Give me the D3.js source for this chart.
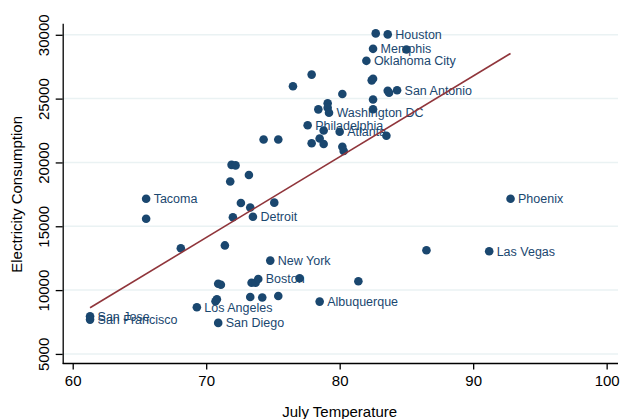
<!DOCTYPE html>
<html>
<head>
<meta charset="utf-8">
<script src="https://cdn.jsdelivr.net/npm/d3@7"></script>
<style>
  body { margin: 0; background: #fff; }
  text { font-family: "Liberation Sans", Arial, sans-serif; }
</style>
</head>
<body>
<div id="chart"></div>
<script>
// July temperature (F) for each city
const temperature = [
  82.7, 83.6, 82.5, 85.0, 82.0, 77.9, 76.5, 82.4, 82.5, 80.2,
  83.6, 83.7, 84.3, 82.5, 79.1, 79.1, 79.2, 78.4, 82.5, 77.6,
  78.8, 80.0, 78.5, 77.9, 78.8, 80.2, 80.3, 83.5, 74.3, 75.4,
  71.9, 72.2, 73.2, 71.8, 65.5, 92.8, 72.6, 73.3, 75.1, 65.5,
  72.0, 73.5, 68.1, 71.4, 74.8, 86.5, 91.2, 70.9, 71.1, 73.4,
  73.7, 73.9, 77.0, 81.4, 70.8, 70.7, 73.3, 74.2, 75.4, 69.3,
  78.5, 61.3, 61.3, 70.9
];

// electricity consumption
const consumption = [
  30110, 30030, 28900, 28850, 27960, 26880, 25970, 26430, 26560, 25360,
  25620, 25460, 25660, 24930, 24630, 24290, 23890, 24160, 24170, 22910,
  22500, 22400, 21870, 21500, 21440, 21230, 20900, 22090, 21800, 21800,
  19810, 19770, 19020, 18510, 17160, 17160, 16820, 16470, 16850, 15590,
  15710, 15750, 13280, 13500, 12310, 13120, 13040, 10500, 10420, 10580,
  10580, 10870, 10930, 10690, 9280, 9130, 9460, 9420, 9540, 8660,
  9100, 7950, 7690, 7430
];

// marker labels ('' = unlabelled)
const city = [
  "", "Houston", "Memphis", "", "Oklahoma City", "", "", "", "", "",
  "", "", "San Antonio", "", "", "", "Washington DC", "", "", "Philadelphia",
  "", "Atlanta", "", "", "", "", "", "", "", "",
  "", "", "", "", "Tacoma", "Phoenix", "", "", "", "",
  "", "Detroit", "", "", "New York", "", "Las Vegas", "", "", "",
  "", "Boston", "", "", "", "", "", "", "", "Los Angeles",
  "Albuquerque", "San Jose", "San Francisco", "San Diego"
];

const xTicks = [60, 70, 80, 90, 100];
const yTicks = [5000, 10000, 15000, 20000, 25000, 30000];

const width = 622, height = 419;
const navy = "#1a476f", maroon = "#90353b";

const svg = d3.select("#chart").append("svg")
  .attr("width", width)
  .attr("height", height);

const x = d3.scaleLinear().domain([59.25, 100.85]).range([62.7, 618]);
const y = d3.scaleLinear().domain([4250, 30900]).range([363.5, 23.3]);

// grid lines
svg.append("g")
  .selectAll("line")
  .data(yTicks)
  .enter()
  .append("line")
    .attr("x1", x.range()[0])
    .attr("x2", x.range()[1])
    .attr("y1", d => y(d))
    .attr("y2", d => y(d))
    .attr("stroke", "#eaf2f3")
    .attr("stroke-width", 1.5);

// axes
const xAxis = svg.append("g")
  .attr("transform", "translate(0," + y.range()[0] + ")")
  .call(d3.axisBottom(x).tickValues(xTicks).tickSize(6).tickPadding(6).tickFormat(d3.format("d")));

const yAxis = svg.append("g")
  .attr("transform", "translate(" + x.range()[0] + ",0)")
  .call(d3.axisLeft(y).tickValues(yTicks).tickSize(7).tickSizeOuter(0).tickFormat(d3.format("d")));

[xAxis, yAxis].forEach(g => {
  g.select(".domain").attr("stroke", "#000").attr("stroke-width", 1.3);
  g.selectAll(".tick line").attr("stroke", "#000").attr("stroke-width", 1.3);
  g.selectAll(".tick text")
    .attr("fill", "#000")
    .style("font-size", "15px")
    .style("font-family", "'Liberation Sans', Arial, sans-serif");
});
xAxis.select(".domain").attr("d", "M" + x.range()[0] + ",0H" + x.range()[1]);

yAxis.selectAll(".tick text")
  .attr("x", 0)
  .attr("dy", 0)
  .attr("text-anchor", "middle")
  .attr("transform", "translate(-14,0) rotate(-90)");

// axis titles
svg.append("text")
  .attr("x", (x(60) + x(100)) / 2)
  .attr("y", 417)
  .attr("text-anchor", "middle")
  .style("font-size", "15px")
  .text("July Temperature");

svg.append("text")
  .attr("transform", "translate(22," + (y(5000) + y(30000)) / 2 + ") rotate(-90)")
  .attr("text-anchor", "middle")
  .style("font-size", "15px")
  .text("Electricity Consumption");

// points
const points = temperature.map((t, i) => ({t: t, v: consumption[i], name: city[i]}));

svg.append("g")
  .selectAll("circle")
  .data(points)
  .enter()
  .append("circle")
    .attr("cx", d => x(d.t))
    .attr("cy", d => y(d.v))
    .attr("r", 4.3)
    .attr("fill", navy);

svg.append("g")
  .selectAll("text")
  .data(points.filter(d => d.name !== ""))
  .enter()
  .append("text")
    .attr("x", d => x(d.t) + 7.5)
    .attr("y", d => y(d.v) + 4.5)
    .attr("fill", navy)
    .style("font-size", "12.5px")
    .text(d => d.name);

// linear fit
const mt = d3.mean(temperature), mv = d3.mean(consumption);
let sxy = 0, sxx = 0;
temperature.forEach((t, i) => {
  sxy += (t - mt) * (consumption[i] - mv);
  sxx += (t - mt) * (t - mt);
});
const slope = sxy / sxx, intercept = mv - slope * mt;
const tExt = d3.extent(temperature);

svg.append("line")
  .attr("x1", x(tExt[0]))
  .attr("y1", y(intercept + slope * tExt[0]))
  .attr("x2", x(tExt[1]))
  .attr("y2", y(intercept + slope * tExt[1]))
  .attr("stroke", maroon)
  .attr("stroke-width", 1.6);
</script>
</body>
</html>
